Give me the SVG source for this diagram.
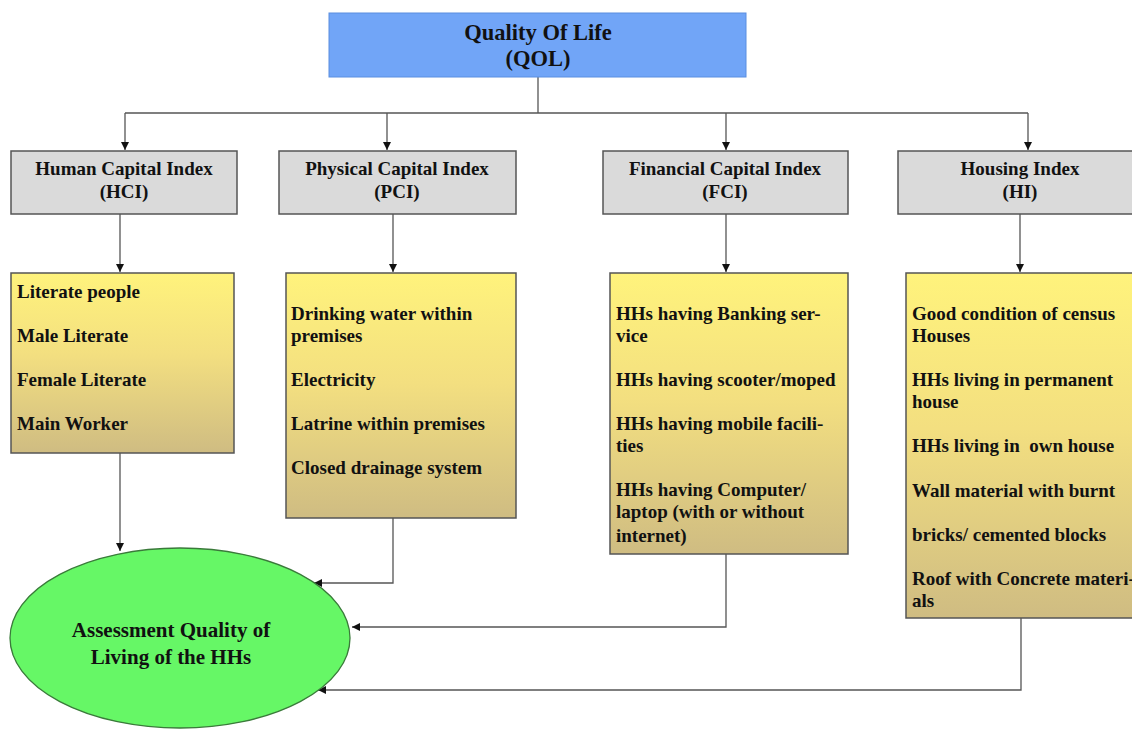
<svg xmlns="http://www.w3.org/2000/svg" width="1132" height="730" viewBox="0 0 1132 730">
<style>
text{font-family:"Liberation Serif","Times New Roman",serif;font-weight:bold;fill:#111}
.t{font-size:22.5px;text-anchor:middle}
.h{font-size:19px;text-anchor:middle}
.e{font-size:21px;text-anchor:middle}
.i{font-size:19px}
.idx{fill:#dadada;stroke:#555;stroke-width:1.5}
.yel{fill:url(#yg);stroke:#555;stroke-width:1.5}
.c{fill:none;stroke:#555;stroke-width:1.3}
</style>
<defs>
<linearGradient id="yg" x1="0" y1="0" x2="0" y2="1">
<stop offset="0" stop-color="#fff37c"/>
<stop offset="0.45" stop-color="#f3df80"/>
<stop offset="1" stop-color="#cfbc82"/>
</linearGradient>
<marker id="ar" viewBox="0 0 10 10" refX="10" refY="5" markerWidth="8" markerHeight="8" markerUnits="userSpaceOnUse" orient="auto">
<path d="M0,0 L10,5 L0,10 z" fill="#111"/>
</marker>
</defs>
<g id="connectors">
<path class="c" d="M538,77 V113"/>
<path class="c" d="M125,113 H1028"/>
<path class="c" d="M125,113 V150" marker-end="url(#ar)"/>
<path class="c" d="M387,113 V150" marker-end="url(#ar)"/>
<path class="c" d="M726,113 V150" marker-end="url(#ar)"/>
<path class="c" d="M1028,113 V150" marker-end="url(#ar)"/>
<path class="c" d="M120,214 V272" marker-end="url(#ar)"/>
<path class="c" d="M393,214 V272" marker-end="url(#ar)"/>
<path class="c" d="M726,214 V272" marker-end="url(#ar)"/>
<path class="c" d="M1020,214 V272" marker-end="url(#ar)"/>
<path class="c" d="M120,453 V551" marker-end="url(#ar)"/>
<path class="c" d="M393,518 V583 H314" marker-end="url(#ar)"/>
<path class="c" d="M726,554 V627 H352" marker-end="url(#ar)"/>
<path class="c" d="M1021,618 V690 H318" marker-end="url(#ar)"/>
</g>
<g id="qol">
<rect x="329" y="13" width="417" height="64" fill="#71a5f7" stroke="#5a8ee0" stroke-width="1"/>
<text class="t" x="538" y="40">Quality Of Life</text>
<text class="t" x="538" y="66">(QOL)</text>
</g>
<g id="hci">
<rect class="idx" x="11" y="151" width="226" height="63"/>
<text class="h" x="124" y="175">Human Capital Index</text>
<text class="h" x="124" y="198">(HCI)</text>
</g>
<g id="pci">
<rect class="idx" x="279" y="151" width="237" height="63"/>
<text class="h" x="397" y="175">Physical Capital Index</text>
<text class="h" x="397" y="198">(PCI)</text>
</g>
<g id="fci">
<rect class="idx" x="603" y="151" width="245" height="63"/>
<text class="h" x="725" y="175">Financial Capital Index</text>
<text class="h" x="725" y="198">(FCI)</text>
</g>
<g id="hi">
<rect class="idx" x="898" y="151" width="240" height="63"/>
<text class="h" x="1020" y="175">Housing Index</text>
<text class="h" x="1020" y="198">(HI)</text>
</g>
<g id="hci-items">
<rect class="yel" x="11" y="273" width="223" height="180"/>
<text class="i" x="17" y="298">Literate people</text>
<text class="i" x="17" y="342">Male Literate</text>
<text class="i" x="17" y="386">Female Literate</text>
<text class="i" x="17" y="430">Main Worker</text>
</g>
<g id="pci-items">
<rect class="yel" x="286" y="273" width="230" height="245"/>
<text class="i" x="291" y="320">Drinking water within</text>
<text class="i" x="291" y="342">premises</text>
<text class="i" x="291" y="386">Electricity</text>
<text class="i" x="291" y="430">Latrine within premises</text>
<text class="i" x="291" y="474">Closed drainage system</text>
</g>
<g id="fci-items">
<rect class="yel" x="610" y="273" width="238" height="281"/>
<text class="i" x="616" y="320">HHs having Banking ser-</text>
<text class="i" x="616" y="342">vice</text>
<text class="i" x="616" y="386">HHs having scooter/moped</text>
<text class="i" x="616" y="430">HHs having mobile facili-</text>
<text class="i" x="616" y="452">ties</text>
<text class="i" x="616" y="496">HHs having Computer/</text>
<text class="i" x="616" y="518">laptop (with or without</text>
<text class="i" x="616" y="542">internet)</text>
</g>
<g id="hi-items">
<rect class="yel" x="906" y="273" width="240" height="345"/>
<text class="i" x="912" y="320">Good condition of census</text>
<text class="i" x="912" y="342">Houses</text>
<text class="i" x="912" y="386">HHs living in permanent</text>
<text class="i" x="912" y="408">house</text>
<text class="i" x="912" y="452" xml:space="preserve">HHs living in  own house</text>
<text class="i" x="912" y="497">Wall material with burnt</text>
<text class="i" x="912" y="541">bricks/ cemented blocks</text>
<text class="i" x="912" y="585">Roof with Concrete materi-</text>
<text class="i" x="912" y="607">als</text>
</g>
<g id="assessment">
<ellipse cx="180" cy="638" rx="170" ry="90" fill="#66f766" stroke="#3a7a3a" stroke-width="1.3"/>
<text class="e" x="171" y="637">Assessment Quality of</text>
<text class="e" x="171" y="664">Living of the HHs</text>
</g>
</svg>
